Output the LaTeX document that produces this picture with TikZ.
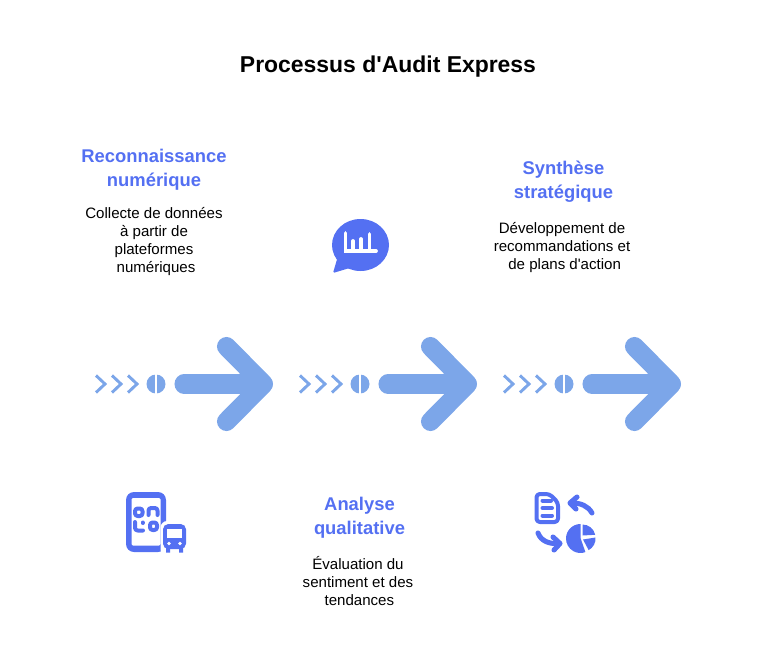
\documentclass[tikz,border=0pt]{standalone}
\usepackage{fontspec}
\setmainfont{Liberation Sans}
\definecolor{titreblue}{HTML}{5470F2}
\definecolor{flecheblue}{HTML}{7CA6E9}
\tikzset{
  titre/.style={font=\fontsize{17.2}{22}\selectfont\bfseries, text=black},
  entete/.style={font=\fontsize{13.8}{18}\selectfont\bfseries, text=titreblue, align=center},
  corps/.style={font=\fontsize{11.3}{13.5}\selectfont, text=black, align=center},
  fleche/.style={draw=flecheblue, line width=14.3pt, line cap=round, line join=round},
  chevron/.style={draw=flecheblue, line width=2.2pt},
  icone/.style={fill=titreblue, draw=none},
  trait/.style={draw=titreblue, line width=3pt, line cap=round, line join=round},
  vide/.style={draw=white, line width=2.8pt, line cap=round}
}
\begin{document}
\begin{tikzpicture}[x=0.75pt, y=-0.75pt]
        \useasboundingbox (0, 0) rectangle (776, 672);
        % titre
        \node [titre] (titre) at (388, 67) {Processus d\textquotesingle Audit Express};
        % textes
        \node [entete] (recon) at (154, 170) {Reconnaissance\\numérique};
        \node [corps] (reconbas) at (154, 242) {Collecte de données\\à partir de\\plateformes\\\hspace*{3pt}numériques};
        \node [entete] (synth) at (563.5, 182) {Synthèse\\stratégique};
        \node [corps] (synthbas) at (562, 248) {Développement de\\recommandations et\\\hspace*{4pt}de plans d\textquotesingle action};
        \node [entete] (analyse) at (359.5, 518) {Analyse\\qualitative};
        \node [corps] (analysebas) at (358, 581) {Évaluation du\\sentiment et des\\\hspace*{2pt}tendances};
        % flèches
        \foreach \x in {0, 204, 408} {
          \foreach \c in {95, 111, 127}
            \draw [chevron] (\x+\c+1, 375.5)--(\x+\c+10, 384)--(\x+\c+1, 392.5);
          \fill [flecheblue] (\x+156, 384) circle (9.5);
          \fill [white] (\x+155.2, 373)rectangle(\x+156.8, 395);
          \draw [fleche] (\x+184, 384)--(\x+263, 384);
          \draw [fleche] (\x+226.5, 346.5)--(\x+263.5, 384)--(\x+226.5, 421.5);
        }
        % icône bulle
        \fill [icone] (360.5, 245) ellipse (28.5 and 26);
        \fill [icone, rounded corners=1pt] (338, 256)--(333, 273)--(353, 267)--cycle;
        \draw [vide] (345.5, 233)--(345.5, 251)--(376, 251);
        \draw [vide] (353, 241)--(353, 250) (361, 239)--(361, 250) (369.5, 234)--(369.5, 250);
        % icône téléphone et bus
        \fill [icone, rounded corners=6pt] (126, 492)rectangle(166, 552);
        \fill [white, rounded corners=1pt] (131.5, 498)rectangle(160.5, 545.5);
        \draw [trait, rounded corners=2pt] (135, 508.5)rectangle(142.5, 516);
        \draw [trait, rounded corners=2pt] (150, 522.5)rectangle(157, 530);
        \draw [trait, rounded corners=2pt] (148.5, 515)--(148.5, 508)--(157.5, 508)--(157.5, 515);
        \draw [trait, rounded corners=2pt] (135, 522)--(135, 530.5)--(143, 530.5);
        \draw [trait] (142.5, 522.5)--(142.5, 523);
        \fill [white, rounded corners=5pt] (160.5, 521)rectangle(190, 556);
        \fill [icone, rounded corners=4pt] (163, 524)rectangle(186, 549);
        \fill [icone] (166, 547)rectangle(170, 552.5) (179, 547)rectangle(183, 552.5);
        \fill [white] (167, 529)rectangle(182, 538);
        \fill [white] (169, 543.5) circle (1.8) (180, 543.5) circle (1.8);
        % icône document et camembert
        \draw [trait, rounded corners=2.5pt] (536.5, 494)--(549.5, 494)--(558, 502.5)--(558, 522)--(536.5, 522)--cycle;
        \draw [trait] (542.5, 500.5)--(551, 500.5) (542.5, 508)--(552, 508) (542.5, 515.5)--(552, 515.5);
        \draw [trait, line width=3.8pt] (592, 513) .. controls (588, 506) and (581, 503) .. (572, 503);
        \draw [trait, line width=3.8pt] (577, 497)--(570, 503)--(576, 509);
        \draw [trait, line width=3.8pt] (538, 533) .. controls (541, 541) and (549, 544) .. (558, 543.5);
        \draw [trait, line width=3.8pt] (553, 537)--(560, 543.5)--(554, 550);
        \fill [icone] (580.5, 538)--(580.5, 524) arc (-90:-290:14.5) --cycle;
        \fill [icone] (582.5, 535.5)--(582.5, 524.5) arc (-90:-12:13) --cycle;
        \fill [icone] (583, 539.5)--(595.5, 537.5) arc (-5:62:13) --cycle;
      \end{tikzpicture}
\end{document}
